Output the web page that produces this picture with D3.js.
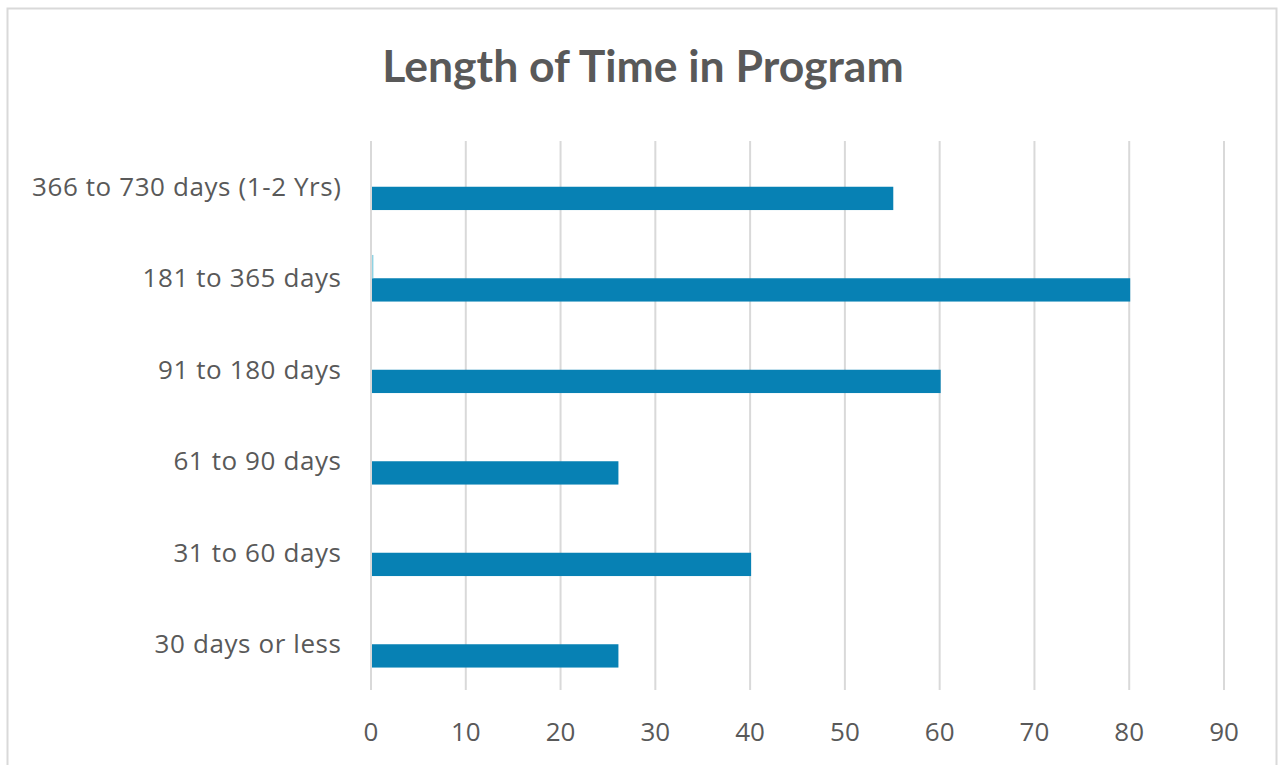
<!DOCTYPE html>
<html>
<head>
<meta charset="utf-8">
<script src="https://cdn.jsdelivr.net/npm/d3@7"></script>
<style>
  html, body { margin: 0; padding: 0; background: #fff; }
  svg { display: block; }
</style>
</head>
<body>
<div id="chart"></div>
<script>
// categories, bottom to top as in the picture
const categories = [
    "30 days or less",
    "31 to 60 days",
    "61 to 90 days",
    "91 to 180 days",
    "181 to 365 days",
    "366 to 730 days (1-2 Yrs)"
];
const seriesNames = ["Count", "Other"];
const countValues = [26, 40, 26, 60, 80, 55];
const otherValues = [0, 0, 0, 0, 0.15, 0];
const xTicks = [0, 10, 20, 30, 40, 50, 60, 70, 80, 90];
const titleText = "Length of Time in Program";

const width = 1280, height = 765;
const margin = { left: 371, right: 56, top: 141, bottom: 75 };
const labelFont = "'Open Sans', 'Noto Sans', sans-serif";

const svg = d3.select("#chart").append("svg")
    .attr("width", width)
    .attr("height", height);

// chart frame
svg.append("rect")
    .attr("x", 7.5).attr("y", 8.5)
    .attr("width", 1269).attr("height", 770)
    .attr("fill", "#fff")
    .attr("stroke", "#d9d9d9")
    .attr("stroke-width", 2);

svg.append("text")
    .attr("x", 643).attr("y", 82)
    .attr("text-anchor", "middle")
    .attr("font-family", "Lato, 'Noto Sans', sans-serif")
    .attr("font-weight", "bold")
    .attr("font-size", 44.5)
    .attr("fill", "#595959")
    .text(titleText);

const x = d3.scaleLinear()
    .domain([0, 90])
    .range([margin.left, width - margin.right]);

// reversed so first category sits at the bottom
const y = d3.scaleBand()
    .domain(categories.slice().reverse())
    .range([margin.top, height - margin.bottom])
    .paddingInner(0)
    .paddingOuter(0);

const inner = d3.scaleBand()
    .domain(seriesNames.slice().reverse())
    .range([y.bandwidth() / 2 - 23.3, y.bandwidth() / 2 + 23.3]);

// gridlines
svg.append("g")
    .selectAll("line")
    .data(xTicks)
    .join("line")
    .attr("x1", d => x(d)).attr("x2", d => x(d))
    .attr("y1", margin.top).attr("y2", height - margin.bottom)
    .attr("stroke", "#d9d9d9")
    .attr("stroke-width", 2);

const rows = categories.map((c, i) => ({ cat: c, Count: countValues[i], Other: otherValues[i] }));

const colors = { Count: "#0781b4", Other: "#8fd3e3" };

seriesNames.forEach(s => {
    svg.append("g")
        .selectAll("rect")
        .data(rows)
        .join("rect")
        .attr("x", x(0) + 1)
        .attr("y", d => y(d.cat) + inner(s))
        .attr("width", d => Math.max(0, x(d[s]) - x(0)))
        .attr("height", inner.bandwidth())
        .attr("fill", colors[s]);
});

// category labels
svg.append("g")
    .selectAll("text")
    .data(categories)
    .join("text")
    .attr("x", 341.6)
    .attr("y", d => y(d) + y.bandwidth() / 2)
    .attr("dy", "0.35em")
    .attr("text-anchor", "end")
    .attr("font-family", labelFont)
    .attr("font-size", 26)
    .attr("letter-spacing", 0.6)
    .attr("fill", "#595959")
    .text(d => d);

// value axis labels
svg.append("g")
    .selectAll("text")
    .data(xTicks)
    .join("text")
    .attr("x", d => x(d))
    .attr("y", 732)
    .attr("dy", "0.35em")
    .attr("text-anchor", "middle")
    .attr("font-family", labelFont)
    .attr("font-size", 26)
    .attr("fill", "#595959")
    .text(d => d);
</script>
</body>
</html>
